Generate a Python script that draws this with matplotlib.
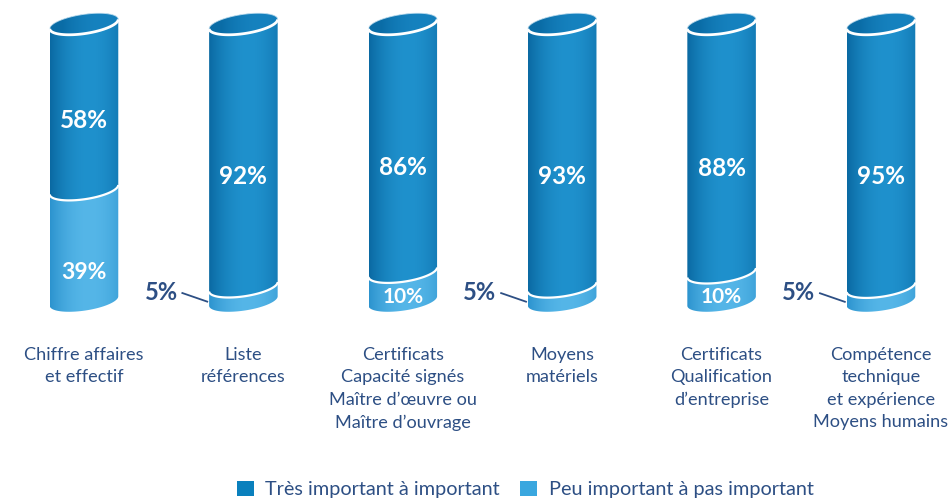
import numpy as np
import matplotlib
matplotlib.use("Agg")
import matplotlib.pyplot as plt
from matplotlib.patches import Polygon, Patch
from matplotlib.colors import to_rgb

# ---- data ----
categories = ["Chiffre affaires\net effectif",
              "Liste\nréférences",
              "Certificats\nCapacité signés\nMaître d’œuvre ou\nMaître d’ouvrage",
              "Moyens\nmatériels",
              "Certificats\nQualification\nd’entreprise",
              "Compétence\ntechnique\net expérience\nMoyens humains"]
important = [58, 92, 86, 93, 88, 95]
peu_important = [39, 5, 10, 5, 10, 5]
series_labels = ["Très important à important", "Peu important à pas important"]

# ---- style ----
FONT = ["Lato", "DejaVu Sans"]
plt.rcParams["font.family"] = FONT
NAVY = "#2D4F84"
DARK_EDGE, DARK_HI = "#0A69A2", "#1F91CD"
LIGHT_EDGE, LIGHT_HI = "#2C93CE", "#55B6E8"
CAP_EDGE, CAP_HI = "#0A6CA6", "#1682BF"
LEG_DARK, LEG_LIGHT = "#0A80BD", "#3AA7DF"

W, H = 953, 503
fig = plt.figure(figsize=(W / 100, H / 100), dpi=100)
ax = fig.add_axes([0, 0, 1, 1])
ax.set_axis_off()

A = 0.215    # half width (category units)
B = 3.5      # ellipse half height (% units)
SH = 1.7     # shear giving the tilt

front = np.linspace(np.pi, 2 * np.pi, 80)
back = np.linspace(0, np.pi, 80)
full = np.linspace(0, 2 * np.pi, 160)


def arc(cx, cy, th):
    return np.column_stack([cx + A * np.cos(th), cy + B * np.sin(th) + SH * np.cos(th)])


def shade(verts, x0, x1, y0, y1, edge, hi, z, peak=0.15):
    poly = Polygon(verts, closed=True, facecolor="none", edgecolor="none", zorder=z)
    ax.add_patch(poly)
    t = np.linspace(-1, 1, 300)
    w = np.clip(1 - ((t - peak) / 1.15) ** 2, 0, 1)
    e = np.array(to_rgb(edge)); h = np.array(to_rgb(hi))
    img = e[None, :] + (h - e)[None, :] * w[:, None]
    im = ax.imshow(img[None, :, :], extent=[x0, x1, y0, y1], aspect="auto",
                   origin="lower", zorder=z, interpolation="bilinear")
    im.set_clip_path(poly)


for i, (hi_v, lo_v) in enumerate(zip(important, peu_important)):
    total = hi_v + lo_v
    lo = lo_v / total * 100
    top = 100.0
    cx = i
    # lower segment
    verts = np.vstack([arc(cx, 0, front), arc(cx, lo, front[::-1])])
    shade(verts, cx - A, cx + A, -B - SH - 1, lo + B, LIGHT_EDGE, LIGHT_HI, 2)
    # upper segment
    verts = np.vstack([arc(cx, lo, front), arc(cx, top, back)])
    shade(verts, cx - A, cx + A, lo - B - 2, top + B + 2, DARK_EDGE, DARK_HI, 3)
    # boundary line
    p = arc(cx, lo, front)
    ax.plot(p[:, 0], p[:, 1], color="white", lw=1.6, zorder=4, solid_capstyle="butt")
    # cap
    shade(arc(cx, top, full), cx - A, cx + A, top - B - 2, top + B + 2, CAP_EDGE, CAP_HI, 5, peak=0.5)
    p = arc(cx, top, front)
    ax.plot(p[:, 0], p[:, 1], color="white", lw=2.0, zorder=6, solid_capstyle="butt")
    p = arc(cx, top, back)
    ax.plot(p[:, 0], p[:, 1], color="#d6eaf6", lw=0.7, zorder=6, alpha=0.8)

    # labels upper
    ax.text(cx, lo + 0.42 * (top - lo), f"{hi_v}%", color="white", fontsize=17.5,
            fontweight="bold", ha="center", va="center", zorder=7)
    # labels lower
    if lo_v >= 8:
        fs = 16.5 if lo > 20 else 15
        ax.text(cx, 0.3 * lo - 1.7, f"{lo_v}%", color="white", fontsize=fs,
                fontweight="bold", ha="center", va="center", zorder=7)
    else:
        mid = lo / 2
        ax.text(cx - 0.412, mid + 0.6, f"{lo_v}%", color=NAVY, fontsize=17,
                fontweight="bold", ha="right", va="center", zorder=7)
        ax.plot([cx - 0.383, cx - A - 0.012], [mid + 0.3, mid - 2.8],
                color=NAVY, lw=1.3, zorder=7)

    ax.text(cx, -16.5, categories[i], color=NAVY, fontsize=13.1, ha="center",
            va="top", linespacing=1.5)

px_per = 2.77
ax.set_xlim(-84 / 159.4, (W - 84) / 159.4)
ax.set_ylim(-(H - 301) / px_per, 301 / px_per)

handles = [Patch(facecolor=LEG_DARK, edgecolor="none"),
           Patch(facecolor=LEG_LIGHT, edgecolor="none")]
leg = fig.legend(handles, series_labels, loc="center", bbox_to_anchor=(0.551, 0.027),
                 ncol=2, frameon=False, fontsize=14.3, handlelength=0.85, handleheight=0.85,
                 handletextpad=0.6, columnspacing=1.0)
for t in leg.get_texts():
    t.set_color(NAVY)

fig.savefig("out.png", dpi=100)
